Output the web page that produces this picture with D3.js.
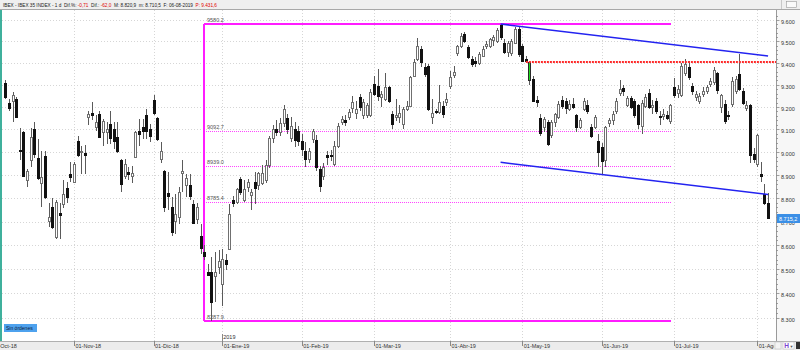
<!DOCTYPE html>
<html>
<head>
<meta charset="utf-8">
<script src="https://cdn.jsdelivr.net/npm/d3@7"></script>
<style>
  body { margin: 0; background: #fff; }
  svg { display: block; font-family: "Liberation Sans", Arial, sans-serif; }
</style>
</head>
<body>
<script>
// Chart size
const width = 800, height = 350;

// Daily candles, one array per month: [day, open, high, low, close]
const oct18 = [
  [5,9307,9320,9237,9246],[8,9216,9236,9184,9194],[9,9228,9266,9131,9254],[10,9236,9246,9152,9157],
  [11,9010,9107,8963,9004],[12,9087,9094,8890,8897],[15,8876,8928,8847,8919],[16,8963,9108,8934,9067],
  [17,9101,9131,8976,8991],[18,8972,9059,8876,8885],[19,8866,9006,8761,8890],[22,8984,9006,8798,8804],
  [23,8704,8777,8676,8721],[24,8761,8799,8670,8676],[25,8634,8790,8627,8783],[26,8735,8777,8628,8729],
  [29,8773,8876,8756,8816],[30,8843,8869,8777,8804],[31,8906,8955,8869,8889]
];
const nov18 = [
  [1,8869,8955,8865,8948],[2,9050,9072,8978,8989],[5,9000,9028,8906,9004],[6,8997,9030,8906,8987],
  [7,9153,9184,9119,9168],[8,9175,9221,9142,9165],[9,9110,9163,9094,9132],[12,9169,9184,9063,9068],
  [13,9087,9148,9028,9139],[14,9087,9131,9037,9102],[15,9126,9181,9035,9064],[16,9101,9131,9015,9050],
  [19,9068,9131,8998,9003],[20,8966,8970,8826,8862],[21,8897,8970,8884,8948],[22,8911,8936,8876,8902],
  [23,8897,8940,8867,8909],[26,8978,9094,8976,9087],[27,9091,9146,9028,9080],[28,9112,9146,9057,9094],
  [29,9163,9192,9057,9094],[30,9104,9125,9043,9072]
];
const dec18 = [
  [3,9231,9252,9163,9174],[4,9149,9153,9050,9058],[5,8970,9043,8950,9006],[6,8919,8921,8740,8760],
  [7,8823,8912,8747,8809],[10,8761,8804,8640,8655],[11,8704,8818,8648,8732],[12,8718,8847,8690,8826],
  [13,8907,8966,8826,8919],[14,8858,8905,8804,8887],[17,8858,8905,8790,8808],[18,8773,8790,8690,8695],
  [19,8711,8777,8690,8764],[20,8637,8690,8564,8589],[21,8570,8600,8540,8553],[24,8488,8522,8474,8478],
  [27,8488,8550,8287.9,8365],[28,8470,8570,8365,8490],[31,8508,8578,8481,8536]
];
const jan19 = [
  [2,8440,8585,8350,8543],[3,8540,8565,8495,8520],[4,8585,8775,8580,8732],[7,8790,8810,8760,8779],
  [8,8783,8845,8775,8841],[9,8884,8890,8815,8826],[10,8790,8876,8783,8841],[11,8848,8883,8826,8869],
  [14,8815,8840,8747,8826],[15,8871,8912,8773,8843],[16,8858,8915,8833,8908],[17,8865,8944,8858,8908],
  [18,8876,8963,8867,8944],[21,8944,9070,8930,9060],[22,9060,9120,9040,9100],[23,9100,9140,9070,9090],
  [24,9090,9150,9070,9130],[25,9130,9210,9110,9190],[28,9150,9170,9080,9100],[29,9060,9153,9043,9116],
  [30,9102,9131,9024,9055],[31,9094,9116,9028,9050]
];
const feb19 = [
  [1,9050,9080,8984,9014],[4,9006,9043,8934,8970],[5,8970,9020,8950,9006],[6,9058,9100,9040,9094],
  [7,9054,9075,8919,8934],[8,8926,8941,8826,8854],[11,8897,8954,8876,8934],[12,8988,9006,8944,8980],
  [13,8988,9010,8960,8982],[14,8948,9050,8941,9028],[15,9028,9130,9020,9116],[18,9131,9160,9120,9146],
  [19,9143,9165,9115,9131],[20,9153,9190,9140,9176],[21,9196,9250,9175,9223],[22,9174,9228,9148,9192],
  [25,9243,9260,9184,9199],[26,9163,9236,9148,9221],[27,9163,9220,9150,9207],[28,9163,9282,9155,9266]
];
const mar19 = [
  [1,9305,9342,9250,9259],[4,9296,9373,9228,9251],[5,9243,9273,9198,9259],[6,9236,9355,9228,9288],
  [7,9288,9297,9220,9228],[8,9169,9184,9103,9125],[11,9153,9236,9139,9164],[12,9153,9207,9130,9173],
  [13,9125,9200,9103,9192],[14,9192,9228,9184,9206],[15,9206,9342,9198,9334],[18,9342,9419,9337,9402],
  [19,9418,9517,9410,9479],[20,9464,9479,9383,9402],[21,9380,9400,9337,9349],[22,9388,9397,9184,9191],
  [25,9153,9235,9124,9174],[26,9184,9193,9170,9176],[27,9176,9300,9170,9221],[28,9206,9228,9150,9169],
  [29,9221,9264,9206,9236]
];
const apr19 = [
  [1,9296,9364,9283,9334],[2,9346,9388,9330,9357],[3,9445,9484,9430,9479],[4,9479,9540,9470,9525],
  [5,9533,9541,9490,9502],[8,9472,9484,9418,9425],[9,9418,9433,9382,9395],[10,9410,9425,9380,9398],
  [11,9400,9450,9390,9441],[12,9433,9478,9425,9464],[15,9479,9500,9465,9487],[16,9479,9515,9470,9511],
  [17,9505,9530,9480,9520],[18,9500,9560,9490,9550],[23,9575,9580.2,9505,9518],[24,9494,9510,9440,9448],
  [25,9448,9500,9426,9494],[26,9444,9510,9430,9502],[29,9494,9565,9485,9556],[30,9556,9570,9425,9441]
];
const may19 = [
  [2,9479,9485,9408,9410],[3,9420,9430,9405,9410],[6,9323,9410,9300,9406],[7,9328,9340,9225,9228],
  [8,9232,9250,9200,9224],[9,9152,9170,9070,9083],[10,9110,9155,9090,9145],[13,9133,9140,9027,9037],
  [14,9075,9140,9060,9133],[15,9133,9175,9110,9170],[16,9153,9225,9145,9215],[17,9230,9250,9190,9205],
  [20,9228,9240,9170,9197],[21,9190,9230,9180,9215],[22,9215,9240,9190,9200],[23,9162,9170,9090,9110],
  [24,9110,9150,9100,9140],[27,9190,9240,9180,9225],[28,9207,9230,9170,9184],[29,9110,9125,9060,9072],
  [30,9110,9165,9100,9153],[31,9050,9080,8934,8999]
];
const jun19 = [
  [3,9024,9040,8901,8959],[4,8963,9115,8935,9109],[5,9127,9150,9110,9143],[6,9140,9180,9120,9170],
  [7,9180,9240,9170,9228],[10,9265,9320,9250,9280],[11,9285,9300,9250,9270],[12,9210,9250,9200,9240],
  [13,9240,9250,9190,9200],[14,9225,9235,9150,9165],[17,9207,9215,9100,9125],[18,9115,9230,9080,9220],
  [19,9206,9260,9195,9243],[20,9265,9280,9190,9200],[21,9200,9230,9170,9210],[24,9228,9240,9170,9184],
  [25,9160,9180,9120,9158],[26,9160,9190,9140,9170],[27,9165,9180,9140,9150],[28,9139,9215,9125,9207]
];
const jul19 = [
  [1,9290,9330,9240,9253],[2,9265,9300,9240,9280],[3,9253,9400,9245,9385],[4,9355,9420,9340,9395],
  [5,9383,9410,9320,9334],[8,9297,9310,9255,9273],[9,9245,9270,9225,9258],[10,9228,9265,9215,9250],
  [11,9258,9290,9245,9273],[12,9273,9300,9260,9288],[15,9305,9330,9290,9319],[16,9311,9380,9300,9367],
  [17,9353,9360,9260,9277],[18,9200,9260,9172,9252],[19,9213,9230,9125,9139],[22,9165,9180,9140,9160],
  [23,9215,9334,9200,9319],[24,9273,9340,9260,9328],[25,9351,9442,9270,9281],[26,9273,9285,9210,9220],
  [29,9197,9225,9180,9207],[30,9207,9215,8950,8988],[31,8992,9020,8950,8969]
];
const aug19 = [
  [1,8948,9080,8935,9075],[2,8905,8955,8868,8897],[5,8819,8860,8770,8777.2],[6,8777.2,8820.9,8710.5,8715.2]
];

const months = ["2018-10","2018-11","2018-12","2019-01","2019-02","2019-03","2019-04","2019-05","2019-06","2019-07","2019-08"];
const monthRows = [oct18, nov18, dec18, jan19, feb19, mar19, apr19, may19, jun19, jul19, aug19];
const monthLabels = ["01-Oct-18","01-Nov-18","01-Dic-18","01-Ene-19","01-Feb-19","01-Mar-19","01-Abr-19","01-May-19","01-Jun-19","01-Jul-19","01-Ago-19"];

// Drawing tools
const fibLevels = [9580.2, 9092.7, 8939.0, 8785.4, 8287.9];
const fibStart = "2018-12-21", fibEnd = "2019-06-28";
const upperChannel = [["2019-04-23", 9580.2], ["2019-08-06", 9431.6]];
const lowerChannel = [["2019-04-23", 8955.0], ["2019-08-06", 8816.0]];
const gapStart = "2019-05-03", gapLevel = 9405;
const gapCandle = "2019-05-06";
const lastPrice = 8715.2;
const priceTicks = d3.range(8300, 9601, 100);

// Header text pieces: [text, colour]
const headerParts = [
  ["IBEX - IBEX 35 INDEX - 1 d  Dif.%: ", "#222"], ["-0,71", "#e00000"],
  ["  Dif.: ", "#222"], ["-62,0", "#e00000"],
  ["  M: 8.820,9  m: 8.710,5  F: 06-08-2019  ", "#222"], ["P: 9.431,6", "#e00000"]
];

// Flatten candles
const candles = [];
months.forEach((m, i) => {
  monthRows[i].forEach(r => {
    candles.push({date: m + "-" + String(r[0]).padStart(2, "0"), month: i,
                  open: r[1], high: r[2], low: r[3], close: r[4]});
  });
});

// Plot area
const plot = {left: 2, right: 776, top: 10, bottom: 341};

const x = d3.scaleBand()
    .domain(candles.map(d => d.date))
    .range([3.5, 769.9])
    .paddingInner(0);
const cx = d => x(d) + x.bandwidth() / 2;
const px = v => Math.round(v) + 0.5;   // crisp 1px lines

const y = d3.scaleLog()
    .domain([8287.9, 9580.2])
    .range([321, 24]);

const esLocale = d3.formatLocale({decimal: ",", thousands: ".", grouping: [3], currency: ["", ""]});
const fmtPrice = esLocale.format(",.1f");

const svg = d3.select("body").append("svg")
    .attr("width", width)
    .attr("height", height);

const defs = svg.append("defs");
defs.append("clipPath").attr("id", "plotClip")
  .append("rect")
    .attr("x", plot.left).attr("y", plot.top)
    .attr("width", plot.right - plot.left).attr("height", plot.bottom - plot.top);
defs.append("clipPath").attr("id", "dateClip")
  .append("rect").attr("x", 0).attr("y", plot.bottom).attr("width", plot.right - 2).attr("height", height - plot.bottom);

svg.append("rect").attr("width", width).attr("height", height).attr("fill", "#fff");

// Month ticks: first trading day of each month
const monthTicks = months.map((m, i) => {
  const first = candles.find(d => d.month === i);
  let xpos = cx(first.date);
  if (i === 0) xpos -= 4 * x.step(); // 1-Oct lies before the first visible bar
  return {x: xpos, label: monthLabels[i]};
});

// Grid
const grid = svg.append("g").attr("clip-path", "url(#plotClip)");
grid.selectAll("line.h")
  .data(priceTicks)
  .enter().append("line")
    .attr("class", "h")
    .attr("x1", plot.left).attr("x2", plot.right)
    .attr("y1", d => px(y(d))).attr("y2", d => px(y(d)))
    .attr("stroke", "#d6d6d6").attr("stroke-dasharray", "1,2");
grid.selectAll("line.v")
  .data(monthTicks)
  .enter().append("line")
    .attr("class", "v")
    .attr("x1", d => px(d.x)).attr("x2", d => px(d.x))
    .attr("y1", plot.top).attr("y2", plot.bottom)
    .attr("stroke", "#d6d6d6").attr("stroke-dasharray", "1,2");

// Fibonacci box (magenta)
const fib = svg.append("g").attr("clip-path", "url(#plotClip)");
const fx1 = Math.round(cx(fibStart)), fx2 = Math.round(cx(fibEnd)) + 1;
const isEdge = d => d === fibLevels[0] || d === fibLevels[fibLevels.length - 1];
fib.selectAll("line.lvl")
  .data(fibLevels)
  .enter().append("line")
    .attr("x1", fx1).attr("x2", fx2)
    .attr("y1", d => isEdge(d) ? Math.round(y(d)) : px(y(d)))
    .attr("y2", d => isEdge(d) ? Math.round(y(d)) : px(y(d)))
    .attr("stroke", d => isEdge(d) ? "#ff1cff" : "#ff44ff")
    .attr("stroke-width", d => isEdge(d) ? 2 : 1)
    .attr("stroke-dasharray", d => isEdge(d) ? null : "1,1");
fib.append("line")
    .attr("x1", fx1).attr("x2", fx1)
    .attr("y1", Math.round(y(fibLevels[0]))).attr("y2", Math.round(y(fibLevels[4])))
    .attr("stroke", "#ff1cff").attr("stroke-width", 2);
fib.selectAll("text")
  .data(fibLevels)
  .enter().append("text")
    .attr("x", fx1 + 3)
    .attr("y", d => y(d) - 2)
    .attr("font-size", 5.5)
    .attr("fill", "#555")
    .text(d => d.toFixed(1));

// Candles
const candleG = svg.append("g").attr("clip-path", "url(#plotClip)");
candleG.selectAll("line.wick")
  .data(candles)
  .enter().append("line")
    .attr("class", "wick")
    .attr("x1", d => px(cx(d.date))).attr("x2", d => px(cx(d.date)))
    .attr("y1", d => Math.round(y(d.high))).attr("y2", d => Math.round(y(d.low)))
    .attr("stroke", "#5a5a5a").attr("stroke-width", 1);
candleG.selectAll("rect.body")
  .data(candles)
  .enter().append("rect")
    .attr("class", "body")
    .attr("x", d => Math.round(cx(d.date)) - 0.5)
    .attr("width", 2)
    .attr("y", d => px(y(Math.max(d.open, d.close))))
    .attr("height", d => Math.max(1, Math.round(y(Math.min(d.open, d.close))) - Math.round(y(Math.max(d.open, d.close)))))
    .attr("fill", d => d.date === gapCandle ? "#22dd22" : (d.close >= d.open ? "#fff" : "#111"))
    .attr("stroke", d => d.date === gapCandle ? "#2a2a2a" : (d.close >= d.open ? "#707070" : "#111"))
    .attr("stroke-width", 1);

// Channel lines (blue) and gap line (red)
const tools = svg.append("g").attr("clip-path", "url(#plotClip)");
[upperChannel, lowerChannel].forEach(line => {
  tools.append("line")
      .attr("x1", cx(line[0][0])).attr("y1", y(line[0][1]))
      .attr("x2", cx(line[1][0])).attr("y2", y(line[1][1]))
      .attr("stroke", "#2323f0").attr("stroke-width", 1.5);
});
tools.append("line")
    .attr("x1", cx(gapStart)).attr("x2", plot.right)
    .attr("y1", Math.round(y(gapLevel))).attr("y2", Math.round(y(gapLevel)))
    .attr("stroke", "#ff2a2a").attr("stroke-width", 2)
    .attr("stroke-dasharray", "2,1");

// Left teal edge
svg.append("rect").attr("x", 0).attr("y", plot.top).attr("width", 2).attr("height", plot.bottom - plot.top)
    .attr("fill", "#3fb09c");

// Right price axis
const axisG = svg.append("g");
axisG.append("rect").attr("x", plot.right).attr("y", plot.top)
    .attr("width", width - plot.right).attr("height", plot.bottom - plot.top).attr("fill", "#f7f7f7");
axisG.append("line").attr("x1", plot.right + 0.5).attr("x2", plot.right + 0.5)
    .attr("y1", plot.top).attr("y2", plot.bottom).attr("stroke", "#9a9a9a");
axisG.selectAll("line.minor")
  .data(d3.range(8300, 9621, 20))
  .enter().append("line")
    .attr("x1", plot.right).attr("x2", d => plot.right + (d % 100 === 0 ? 3.5 : 2))
    .attr("y1", d => px(y(d))).attr("y2", d => px(y(d)))
    .attr("stroke", "#8a8a8a").attr("stroke-width", 0.8);
axisG.selectAll("text.tick")
  .data(priceTicks)
  .enter().append("text")
    .attr("class", "tick")
    .attr("x", plot.right + 5)
    .attr("y", d => y(d) + 3.8)
    .attr("font-size", 5.5)
    .attr("fill", "#333")
    .text(d => (d / 1000).toFixed(3));

// Last price badge
axisG.append("rect")
    .attr("x", plot.right + 1).attr("y", Math.round(y(lastPrice)) - 4)
    .attr("width", width - plot.right - 1).attr("height", 9)
    .attr("fill", "#3b8fe6");
axisG.append("text")
    .attr("x", plot.right + 3).attr("y", Math.round(y(lastPrice)) + 2.5)
    .attr("font-size", 5.5).attr("fill", "#fff")
    .text(fmtPrice(lastPrice));

// Bottom date axis
const xAxisG = svg.append("g");
xAxisG.append("rect").attr("x", 0).attr("y", plot.bottom).attr("width", width).attr("height", height - plot.bottom)
    .attr("fill", "#ececec");
xAxisG.append("line").attr("x1", 0).attr("x2", width)
    .attr("y1", plot.bottom + 0.5).attr("y2", plot.bottom + 0.5).attr("stroke", "#b0b0b0");
const dateTicks = xAxisG.append("g").attr("clip-path", "url(#dateClip)");
dateTicks.selectAll("line")
  .data(monthTicks)
  .enter().append("line")
    .attr("x1", d => px(d.x)).attr("x2", d => px(d.x))
    .attr("y1", plot.bottom).attr("y2", plot.bottom + 5)
    .attr("stroke", "#888");
dateTicks.selectAll("text")
  .data(monthTicks)
  .enter().append("text")
    .attr("x", d => d.x + 1.5)
    .attr("y", height - 2)
    .attr("font-size", 5.5)
    .attr("fill", "#333")
    .text(d => d.label);

// Year marker
const yearX = monthTicks[3].x;
svg.append("line").attr("x1", px(yearX)).attr("x2", px(yearX))
    .attr("y1", 334).attr("y2", plot.bottom).attr("stroke", "#888");
svg.append("text").attr("x", yearX + 1).attr("y", 338.5)
    .attr("font-size", 5.5).attr("fill", "#333").text("2019");

// Bottom-right controls
const ctrl = svg.append("g");
ctrl.append("rect").attr("x", plot.right - 1).attr("y", 342).attr("width", 6).attr("height", 7)
    .attr("fill", "#f4f4f4").attr("stroke", "#bbb").attr("stroke-width", 0.5);
ctrl.append("rect").attr("x", 783).attr("y", 342).attr("width", 11).attr("height", 7)
    .attr("fill", "#fff").attr("stroke", "#bbb").attr("stroke-width", 0.5);
ctrl.append("text").attr("x", 784.3).attr("y", 348).attr("font-size", 6.5).attr("font-weight", "bold")
    .attr("fill", "#7a3fd0").text("H");
ctrl.append("text").attr("x", 789.5).attr("y", 347.5).attr("font-size", 4).attr("fill", "#555").text("▼");
ctrl.append("rect").attr("x", 796).attr("y", 342).attr("width", 4).attr("height", 7).attr("fill", "#333");

// "Sin órdenes" badge
svg.append("rect").attr("x", 4).attr("y", 324).attr("width", 33).attr("height", 8).attr("fill", "#4ea2ee");
svg.append("text").attr("x", 6).attr("y", 330).attr("font-size", 5).attr("fill", "#0a1a3a").text("Sin órdenes");

// Header bar
svg.append("rect").attr("x", 0).attr("y", 0).attr("width", width).attr("height", plot.top - 1).attr("fill", "#efefef");
svg.append("line").attr("x1", 0).attr("x2", width).attr("y1", plot.top - 0.5).attr("y2", plot.top - 0.5)
    .attr("stroke", "#a8a8a8");
svg.append("line").attr("x1", 781.5).attr("x2", 781.5).attr("y1", 0).attr("y2", plot.top - 1).attr("stroke", "#c8c8c8");
svg.append("rect").attr("x", 786.5).attr("y", 1.5).attr("width", 10).attr("height", 6)
    .attr("fill", "#fafafa").attr("stroke", "#999").attr("stroke-width", 0.6);
const header = svg.append("text")
    .attr("x", 3).attr("y", 6.8)
    .attr("font-size", 4.7)
    .attr("xml:space", "preserve")
    .style("white-space", "pre");
header.selectAll("tspan")
  .data(headerParts)
  .enter().append("tspan")
    .attr("fill", d => d[1])
    .text(d => d[0]);
</script>
</body>
</html>
